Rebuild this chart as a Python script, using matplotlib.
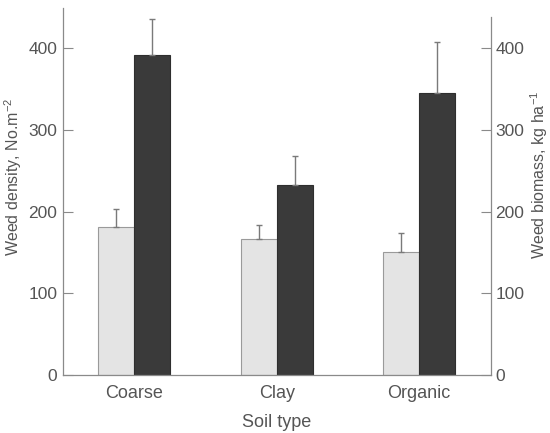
import matplotlib
matplotlib.use("Agg")
import matplotlib.pyplot as plt
import numpy as np

plt.rcParams["font.family"] = ["Liberation Sans", "DejaVu Sans"]
plt.rcParams["mathtext.fontset"] = "custom"
plt.rcParams["mathtext.rm"] = "Liberation Sans"
plt.rcParams["mathtext.it"] = "Liberation Sans"

soil_types = ["Coarse", "Clay", "Organic"]
weed_density = [181, 166, 151]
density_err = [22, 17, 23]
weed_biomass = [391, 232, 345]
biomass_err = [44, 36, 63]
y_ticks = [0, 100, 200, 300, 400]

text_col = "#555555"
axis_col = "#8a8a8a"
light_col = "#e4e4e4"
dark_col = "#3a3a3a"
err_col = "#7a7a7a"

fig = plt.figure(figsize=(5.5, 4.33), dpi=100)
ax = fig.add_axes([63 / 550, 1 - 375 / 433, (491 - 63) / 550, (375 - 8) / 433])

x = np.arange(len(soil_types))
w = 0.253

ax.bar(x - w / 2, weed_density, w, color=light_col, edgecolor="#9a9a9a", linewidth=0.8,
       yerr=[np.zeros(3), density_err], error_kw=dict(ecolor=err_col, elinewidth=1.0, capsize=2.5, capthick=1.0))
ax.bar(x + w / 2, weed_biomass, w, color=dark_col, edgecolor="#2e2e2e", linewidth=0.8,
       yerr=[np.zeros(3), biomass_err], error_kw=dict(ecolor=err_col, elinewidth=1.0, capsize=2.5, capthick=1.0))

ax.set_xlim(-0.5, 2.505)
ax.set_ylim(0, 449)
ax.set_yticks(y_ticks)
ax.set_xticks(x)
ax.set_xticklabels(soil_types, fontsize=13, color=text_col)
ax.tick_params(axis="x", length=0, pad=7)
ax.tick_params(axis="y", direction="in", length=7, width=0.8, color=axis_col,
               labelsize=12.5, labelcolor=text_col, pad=4)
ax.set_xlabel("Soil type", fontsize=13, color=text_col, labelpad=9)

for s in ["top", "right"]:
    ax.spines[s].set_visible(False)
for s in ["left", "bottom"]:
    ax.spines[s].set_color(axis_col)
    ax.spines[s].set_linewidth(0.9)

ax2 = ax.twinx()
ax2.set_ylim(0, 449)
ax2.set_yticks(y_ticks)
ax2.tick_params(axis="y", direction="in", length=7, width=0.8, color=axis_col,
                labelsize=12.5, labelcolor=text_col, pad=3)
for s in ["top", "left", "bottom"]:
    ax2.spines[s].set_visible(False)
ax2.spines["right"].set_color(axis_col)
ax2.spines["right"].set_linewidth(0.9)
ax2.spines["right"].set_bounds(0, 438)

# Axis titles placed as rotated text centred in the side margins
fig.text(13 / 550, 1 - 177 / 433, "Weed density, No.m$^{-2}$", rotation=90,
         ha="center", va="center", fontsize=11.5, color=text_col)
fig.text(539 / 550, 1 - 175 / 433, "Weed biomass, kg ha$^{-1}$", rotation=90,
         ha="center", va="center", fontsize=11.5, color=text_col)

fig.savefig("out.png", dpi=100)
